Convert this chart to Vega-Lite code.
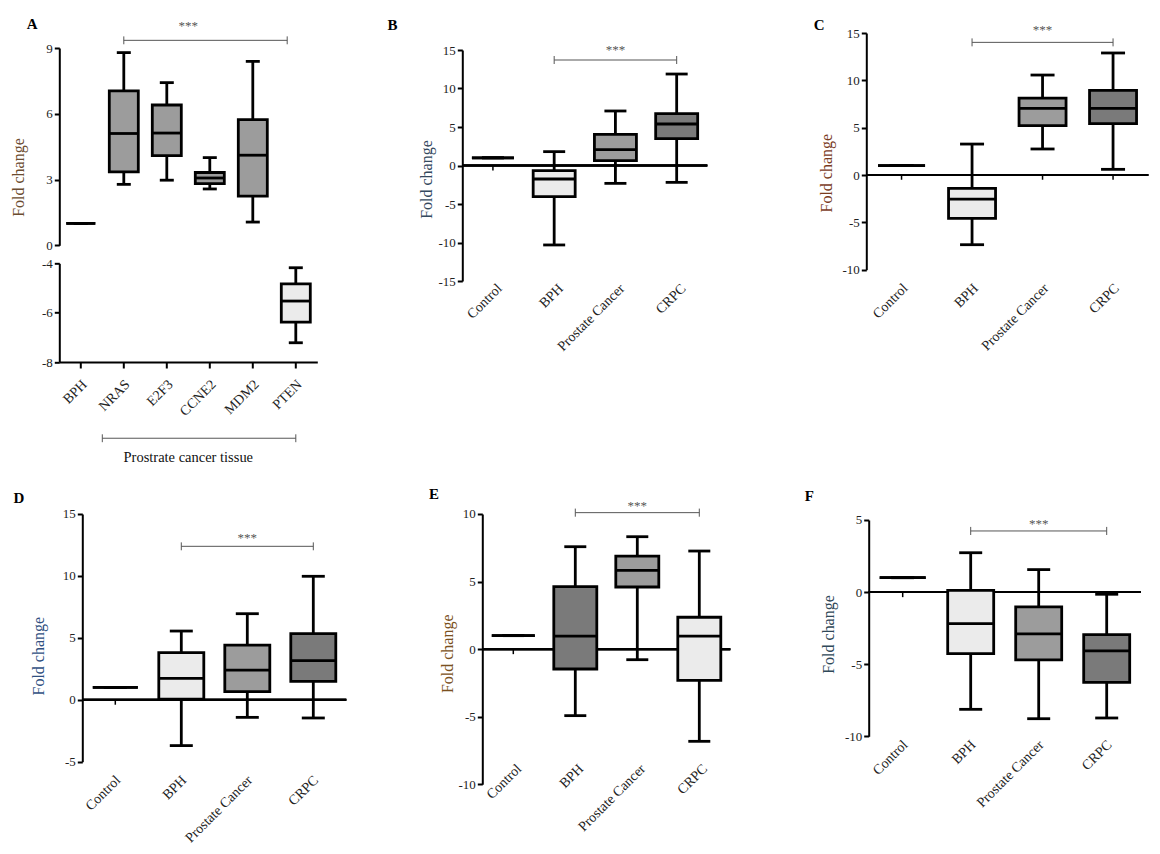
{
"$schema": "https://vega.github.io/schema/vega-lite/v6.json",
"padding": {"left": 10.3, "top": 16, "right": 5, "bottom": 5},
"background": "#ffffff",
"config": {
 "view": {"stroke": null},
 "font": "Liberation Serif",
 "tick": {"opacity": 1},
 "title": {"font": "Liberation Serif", "fontSize": 15, "fontWeight": "bold", "color": "#000000", "anchor": "start", "frame": "group"},
 "axis": {"grid": false, "labelFont": "Liberation Serif", "titleFont": "Liberation Serif", "labelColor": "#222222", "domainColor": "#000000", "tickColor": "#000000", "titleFontWeight": "normal", "labelOverlap": false},
 "axisY": {"domainWidth": 2, "tickWidth": 2, "tickSize": 5, "labelFontSize": 13, "labelPadding": 2, "titleFontSize": 16, "titleAngle": -90, "titleAlign": "center", "titleBaseline": "middle", "labelExpr": "'' + datum.value", "labelOverlap": false},
 "axisX": {"domain": false, "ticks": false, "labelAngle": -45, "labelAlign": "right", "labelBaseline": "middle", "labelPadding": 6, "labelOffset": 4, "labelFontSize": 14, "labelColor": "#222222"}
},
"datasets": {
 "boxes": [
  {"panel": "A", "group": "BPH", "texture": "none", "min": 1, "q1": 1, "median": 1, "q3": 1, "max": 1},
  {"panel": "A", "group": "NRAS", "texture": "fine", "min": 2.78, "q1": 3.35, "median": 5.1, "q3": 7.04, "max": 8.79},
  {"panel": "A", "group": "E2F3", "texture": "fine", "min": 2.97, "q1": 4.09, "median": 5.12, "q3": 6.4, "max": 7.42},
  {"panel": "A", "group": "CCNE2", "texture": "fine", "min": 2.57, "q1": 2.81, "median": 3.07, "q3": 3.32, "max": 4.0},
  {"panel": "A", "group": "MDM2", "texture": "fine", "min": 1.06, "q1": 2.24, "median": 4.11, "q3": 5.73, "max": 8.39},
  {"panel": "A", "group": "PTEN", "texture": "stipple", "min": -7.22, "q1": -6.38, "median": -5.53, "q3": -4.83, "max": -4.18},
  {"panel": "B", "group": "Control", "texture": "none", "min": 1, "q1": 1, "median": 1, "q3": 1, "max": 1},
  {"panel": "B", "group": "BPH", "texture": "stipple", "min": -10.32, "q1": -4.05, "median": -1.75, "q3": -0.67, "max": 1.8},
  {"panel": "B", "group": "Prostate Cancer", "texture": "fine", "min": -2.32, "q1": 0.63, "median": 2.06, "q3": 4.05, "max": 7.08},
  {"panel": "B", "group": "CRPC", "texture": "coarse", "min": -2.19, "q1": 3.48, "median": 5.39, "q3": 6.73, "max": 11.88},
  {"panel": "C", "group": "Control", "texture": "none", "min": 1, "q1": 1, "median": 1, "q3": 1, "max": 1},
  {"panel": "C", "group": "BPH", "texture": "stipple", "min": -7.36, "q1": -4.58, "median": -2.54, "q3": -1.41, "max": 3.27},
  {"panel": "C", "group": "Prostate Cancer", "texture": "fine", "min": 2.75, "q1": 5.21, "median": 7.04, "q3": 8.13, "max": 10.56},
  {"panel": "C", "group": "CRPC", "texture": "coarse", "min": 0.6, "q1": 5.42, "median": 7.04, "q3": 8.94, "max": 12.89},
  {"panel": "D", "group": "Control", "texture": "none", "min": 1, "q1": 1, "median": 1, "q3": 1, "max": 1},
  {"panel": "D", "group": "BPH", "texture": "stipple", "min": -3.7, "q1": 0.06, "median": 1.73, "q3": 3.8, "max": 5.55},
  {"panel": "D", "group": "Prostate Cancer", "texture": "fine", "min": -1.42, "q1": 0.65, "median": 2.4, "q3": 4.42, "max": 6.95},
  {"panel": "D", "group": "CRPC", "texture": "coarse", "min": -1.47, "q1": 1.49, "median": 3.16, "q3": 5.34, "max": 9.97},
  {"panel": "E", "group": "Control", "texture": "none", "min": 1, "q1": 1, "median": 1, "q3": 1, "max": 1},
  {"panel": "E", "group": "BPH", "texture": "coarse", "min": -4.92, "q1": -1.47, "median": 0.97, "q3": 4.62, "max": 7.58},
  {"panel": "E", "group": "Prostate Cancer", "texture": "fine", "min": -0.78, "q1": 4.6, "median": 5.83, "q3": 6.89, "max": 8.32},
  {"panel": "E", "group": "CRPC", "texture": "stipple", "min": -6.82, "q1": -2.31, "median": 0.97, "q3": 2.36, "max": 7.26},
  {"panel": "F", "group": "Control", "texture": "none", "min": 1, "q1": 1, "median": 1, "q3": 1, "max": 1},
  {"panel": "F", "group": "BPH", "texture": "stipple", "min": -8.13, "q1": -4.27, "median": -2.19, "q3": 0.12, "max": 2.73},
  {"panel": "F", "group": "Prostate Cancer", "texture": "fine", "min": -8.78, "q1": -4.7, "median": -2.9, "q3": -1.03, "max": 1.56},
  {"panel": "F", "group": "CRPC", "texture": "coarse", "min": -8.73, "q1": -6.26, "median": -4.08, "q3": -2.95, "max": -0.15}
 ],
 "annots": [
  {"panel": "A", "from": "NRAS", "to": "PTEN", "mid": "CCNE2", "label": "***", "y": 9.35, "ylo": 9.17, "yhi": 9.53, "ty": 9.99},
  {"panel": "A2", "from": "NRAS", "to": "PTEN", "mid": "CCNE2", "label": "Prostrate cancer tissue", "y": -11.09, "ylo": -11.25, "yhi": -10.93, "ty": -11.88},
  {"panel": "B", "from": "BPH", "to": "CRPC", "mid": "Prostate Cancer", "label": "***", "y": 13.7, "ylo": 13.18, "yhi": 14.22, "ty": 15.0},
  {"panel": "C", "from": "BPH", "to": "CRPC", "mid": "Prostate Cancer", "label": "***", "y": 14.01, "ylo": 13.59, "yhi": 14.43, "ty": 15.28},
  {"panel": "D", "from": "BPH", "to": "CRPC", "mid": "Prostate Cancer", "label": "***", "y": 12.39, "ylo": 12.07, "yhi": 12.71, "ty": 13.06},
  {"panel": "E", "from": "BPH", "to": "CRPC", "mid": "Prostate Cancer", "label": "***", "y": 10.1, "ylo": 9.8, "yhi": 10.4, "ty": 10.59},
  {"panel": "F", "from": "BPH", "to": "CRPC", "mid": "Prostate Cancer", "label": "***", "y": 4.24, "ylo": 3.96, "yhi": 4.52, "ty": 4.75}
 ]
},
"spacing": 22,
"vconcat": [
 {"spacing": 70, "hconcat": [
  {"bounds": "flush", "spacing": 0, "vconcat": [
   {"width": 10, "height": 14.4, "data": {"name": "annots"}, "transform": [{"filter": "false"}], "mark": {"type": "point", "opacity": 0}, "encoding": {}},
   {"bounds": "flush", "spacing": 17.3, "vconcat": [
    {"width": 258, "height": 197.3,
     "title": {"text": "A", "dx": -32.6, "offset": -11.5},
     "layer": [
      {"data": {"name": "boxes"}, "transform": [{"filter": "datum.panel==='A' && datum.group!=='PTEN'"}], "mark": {"type": "rule", "color": "#000", "strokeWidth": 2.8},
       "encoding": {"x": {"field": "group", "type": "nominal", "scale": {"domain": ["BPH","NRAS","E2F3","CCNE2","MDM2","PTEN"], "paddingInner": 0, "paddingOuter": 0}, "axis": null},
        "y": {"field": "min", "type": "quantitative", "scale": {"domain": [0, 9], "nice": false, "zero": false}, "axis": {"values": [0,3,6,9], "labelOverlap": false, "title": "Fold change", "titleColor": "#6b4c2f", "titleX": -41, "titleY": 129}}, "y2": {"field": "max"}}},
      {"data": {"name": "boxes"}, "transform": [{"filter": "datum.panel==='A' && datum.group!=='PTEN'"}], "mark": {"type": "tick", "color": "#000", "opacity": 1, "thickness": 2.8, "size": 14},
       "encoding": {"x": {"field": "group", "type": "nominal", "scale": {"domain": ["BPH","NRAS","E2F3","CCNE2","MDM2","PTEN"], "paddingInner": 0, "paddingOuter": 0}}, "y": {"field": "max", "type": "quantitative", "scale": {"domain": [0, 9], "nice": false, "zero": false}}}},
      {"data": {"name": "boxes"}, "transform": [{"filter": "datum.panel==='A' && datum.group!=='PTEN'"}], "mark": {"type": "tick", "color": "#000", "opacity": 1, "thickness": 2.8, "size": 14},
       "encoding": {"x": {"field": "group", "type": "nominal", "scale": {"domain": ["BPH","NRAS","E2F3","CCNE2","MDM2","PTEN"], "paddingInner": 0, "paddingOuter": 0}}, "y": {"field": "min", "type": "quantitative", "scale": {"domain": [0, 9], "nice": false, "zero": false}}}},
      {"data": {"name": "boxes"}, "transform": [{"filter": "datum.panel==='A' && datum.group!=='PTEN'"}], "mark": {"type": "bar", "stroke": "#000", "strokeWidth": 2.8, "size": 29},
       "encoding": {"x": {"field": "group", "type": "nominal", "scale": {"domain": ["BPH","NRAS","E2F3","CCNE2","MDM2","PTEN"], "paddingInner": 0, "paddingOuter": 0}}, "y": {"field": "q1", "type": "quantitative", "scale": {"domain": [0, 9], "nice": false, "zero": false}}, "y2": {"field": "q3"},
        "fill": {"field": "texture", "type": "nominal", "scale": {"domain": ["none","stipple","fine","coarse"], "range": ["#ffffff","#ebebeb","#9c9c9c","#7a7a7a"]}, "legend": null}}},
      {"data": {"name": "boxes"}, "transform": [{"filter": "datum.panel==='A' && datum.group!=='PTEN'"}], "mark": {"type": "tick", "color": "#000", "opacity": 1, "thickness": 2.8, "size": 29},
       "encoding": {"x": {"field": "group", "type": "nominal", "scale": {"domain": ["BPH","NRAS","E2F3","CCNE2","MDM2","PTEN"], "paddingInner": 0, "paddingOuter": 0}}, "y": {"field": "median", "type": "quantitative", "scale": {"domain": [0, 9], "nice": false, "zero": false}}}},
      {"data": {"name": "annots"}, "transform": [{"filter": "datum.panel==='A'"}], "mark": {"type": "rule", "color": "#555", "strokeWidth": 1},
       "encoding": {"x": {"field": "to", "type": "nominal", "bandPosition": 0.3, "scale": {"domain": ["BPH","NRAS","E2F3","CCNE2","MDM2","PTEN"], "paddingInner": 0, "paddingOuter": 0}}, "x2": {"field": "from"}, "y": {"field": "y", "type": "quantitative", "scale": {"domain": [0, 9], "nice": false, "zero": false}}}},
      {"data": {"name": "annots"}, "transform": [{"filter": "datum.panel==='A'"}], "mark": {"type": "rule", "color": "#555", "strokeWidth": 1},
       "encoding": {"x": {"field": "from", "type": "nominal", "scale": {"domain": ["BPH","NRAS","E2F3","CCNE2","MDM2","PTEN"], "paddingInner": 0, "paddingOuter": 0}}, "y": {"field": "ylo", "type": "quantitative", "scale": {"domain": [0, 9], "nice": false, "zero": false}}, "y2": {"field": "yhi"}}},
      {"data": {"name": "annots"}, "transform": [{"filter": "datum.panel==='A'"}], "mark": {"type": "rule", "color": "#555", "strokeWidth": 1},
       "encoding": {"x": {"field": "to", "type": "nominal", "bandPosition": 0.3, "scale": {"domain": ["BPH","NRAS","E2F3","CCNE2","MDM2","PTEN"], "paddingInner": 0, "paddingOuter": 0}}, "y": {"field": "ylo", "type": "quantitative", "scale": {"domain": [0, 9], "nice": false, "zero": false}}, "y2": {"field": "yhi"}}},
      {"data": {"name": "annots"}, "transform": [{"filter": "datum.panel==='A'"}], "mark": {"type": "text", "color": "#555", "fontSize": 13},
       "encoding": {"x": {"field": "mid", "type": "nominal", "bandPosition": 0, "scale": {"domain": ["BPH","NRAS","E2F3","CCNE2","MDM2","PTEN"], "paddingInner": 0, "paddingOuter": 0}}, "y": {"field": "ty", "type": "quantitative", "scale": {"domain": [0, 9], "nice": false, "zero": false}}, "text": {"field": "label"}}}
     ]},
    {"width": 258, "height": 98.7,
     "layer": [
      {"data": {"name": "boxes"}, "transform": [{"filter": "datum.panel==='A' && datum.group==='PTEN'"}], "mark": {"type": "rule", "color": "#000", "strokeWidth": 2.8},
       "encoding": {"x": {"field": "group", "type": "nominal", "scale": {"domain": ["BPH","NRAS","E2F3","CCNE2","MDM2","PTEN"], "paddingInner": 0, "paddingOuter": 0}, "axis": {"title": null, "domain": true, "ticks": true, "domainWidth": 2, "tickWidth": 2, "tickSize": 6, "labelPadding": 14}},
        "y": {"field": "min", "type": "quantitative", "scale": {"domain": [-8, -4], "nice": false, "zero": false}, "axis": {"values": [-8,-6,-4], "labelOverlap": false, "title": null}}, "y2": {"field": "max"}}},
      {"data": {"name": "boxes"}, "transform": [{"filter": "datum.panel==='A' && datum.group==='PTEN'"}], "mark": {"type": "tick", "color": "#000", "opacity": 1, "thickness": 2.8, "size": 14},
       "encoding": {"x": {"field": "group", "type": "nominal", "scale": {"domain": ["BPH","NRAS","E2F3","CCNE2","MDM2","PTEN"], "paddingInner": 0, "paddingOuter": 0}}, "y": {"field": "max", "type": "quantitative", "scale": {"domain": [-8, -4], "nice": false, "zero": false}}}},
      {"data": {"name": "boxes"}, "transform": [{"filter": "datum.panel==='A' && datum.group==='PTEN'"}], "mark": {"type": "tick", "color": "#000", "opacity": 1, "thickness": 2.8, "size": 14},
       "encoding": {"x": {"field": "group", "type": "nominal", "scale": {"domain": ["BPH","NRAS","E2F3","CCNE2","MDM2","PTEN"], "paddingInner": 0, "paddingOuter": 0}}, "y": {"field": "min", "type": "quantitative", "scale": {"domain": [-8, -4], "nice": false, "zero": false}}}},
      {"data": {"name": "boxes"}, "transform": [{"filter": "datum.panel==='A' && datum.group==='PTEN'"}], "mark": {"type": "bar", "stroke": "#000", "strokeWidth": 2.8, "size": 29},
       "encoding": {"x": {"field": "group", "type": "nominal", "scale": {"domain": ["BPH","NRAS","E2F3","CCNE2","MDM2","PTEN"], "paddingInner": 0, "paddingOuter": 0}}, "y": {"field": "q1", "type": "quantitative", "scale": {"domain": [-8, -4], "nice": false, "zero": false}}, "y2": {"field": "q3"},
        "fill": {"field": "texture", "type": "nominal", "scale": {"domain": ["none","stipple","fine","coarse"], "range": ["#ffffff","#ebebeb","#9c9c9c","#7a7a7a"]}, "legend": null}}},
      {"data": {"name": "boxes"}, "transform": [{"filter": "datum.panel==='A' && datum.group==='PTEN'"}], "mark": {"type": "tick", "color": "#000", "opacity": 1, "thickness": 2.8, "size": 29},
       "encoding": {"x": {"field": "group", "type": "nominal", "scale": {"domain": ["BPH","NRAS","E2F3","CCNE2","MDM2","PTEN"], "paddingInner": 0, "paddingOuter": 0}}, "y": {"field": "median", "type": "quantitative", "scale": {"domain": [-8, -4], "nice": false, "zero": false}}}},
      {"data": {"name": "annots"}, "transform": [{"filter": "datum.panel==='A2'"}], "mark": {"type": "rule", "color": "#555", "strokeWidth": 1},
       "encoding": {"x": {"field": "from", "type": "nominal", "bandPosition": 0, "scale": {"domain": ["BPH","NRAS","E2F3","CCNE2","MDM2","PTEN"], "paddingInner": 0, "paddingOuter": 0}}, "x2": {"field": "to"}, "y": {"field": "y", "type": "quantitative", "scale": {"domain": [-8, -4], "nice": false, "zero": false}}}},
      {"data": {"name": "annots"}, "transform": [{"filter": "datum.panel==='A2'"}], "mark": {"type": "rule", "color": "#555", "strokeWidth": 1},
       "encoding": {"x": {"field": "from", "type": "nominal", "bandPosition": 0, "scale": {"domain": ["BPH","NRAS","E2F3","CCNE2","MDM2","PTEN"], "paddingInner": 0, "paddingOuter": 0}}, "y": {"field": "ylo", "type": "quantitative", "scale": {"domain": [-8, -4], "nice": false, "zero": false}}, "y2": {"field": "yhi"}}},
      {"data": {"name": "annots"}, "transform": [{"filter": "datum.panel==='A2'"}], "mark": {"type": "rule", "color": "#555", "strokeWidth": 1},
       "encoding": {"x": {"field": "to", "type": "nominal", "scale": {"domain": ["BPH","NRAS","E2F3","CCNE2","MDM2","PTEN"], "paddingInner": 0, "paddingOuter": 0}}, "y": {"field": "ylo", "type": "quantitative", "scale": {"domain": [-8, -4], "nice": false, "zero": false}}, "y2": {"field": "yhi"}}},
      {"data": {"name": "annots"}, "transform": [{"filter": "datum.panel==='A2'"}], "mark": {"type": "text", "color": "#111", "fontSize": 14.5},
       "encoding": {"x": {"field": "mid", "type": "nominal", "bandPosition": 0, "scale": {"domain": ["BPH","NRAS","E2F3","CCNE2","MDM2","PTEN"], "paddingInner": 0, "paddingOuter": 0}}, "y": {"field": "ty", "type": "quantitative", "scale": {"domain": [-8, -4], "nice": false, "zero": false}}, "text": {"field": "label"}}}
     ]}
   ]}
  ]},
  {"spacing": 105, "hconcat": [
   {"bounds": "flush", "spacing": 0, "vconcat": [
    {"width": 10, "height": 16.7, "data": {"name": "annots"}, "transform": [{"filter": "false"}], "mark": {"type": "point", "opacity": 0}, "encoding": {}},
    {"width": 245, "height": 231,
     "title": {"text": "B", "dx": -74.7, "offset": 11.5},
     "layer": [
      {"data": {"name": "boxes"}, "transform": [{"filter": "datum.panel==='B'"}], "mark": {"type": "rule", "color": "#000", "strokeWidth": 2},
       "encoding": {"y": {"datum": 0, "type": "quantitative", "scale": {"domain": [-15, 15], "nice": false, "zero": false}, "axis": {"values": [-15,-10,-5,0,5,10,15], "tickCount": 7, "labelOverlap": false, "title": "Fold change", "titleColor": "#34495e", "titleX": -36.2, "titleY": 129}}}},
      {"data": {"name": "boxes"}, "transform": [{"filter": "datum.panel==='B'"}], "mark": {"type": "rule", "color": "#000", "strokeWidth": 1.5},
       "encoding": {"x": {"field": "group", "type": "nominal", "scale": {"domain": ["Control","BPH","Prostate Cancer","CRPC"], "paddingInner": 0, "paddingOuter": 0}}, "y": {"datum": 0, "type": "quantitative", "scale": {"domain": [-15, 15], "nice": false, "zero": false}}, "y2": {"datum": -0.65}}},
      {"data": {"name": "boxes"}, "transform": [{"filter": "datum.panel==='B'"}], "mark": {"type": "rule", "color": "#000", "strokeWidth": 2.8},
       "encoding": {"x": {"field": "group", "type": "nominal", "scale": {"domain": ["Control","BPH","Prostate Cancer","CRPC"], "paddingInner": 0, "paddingOuter": 0}, "axis": {"title": null, "labelPadding": 5, "labelOffset": 7}}, "y": {"field": "min", "type": "quantitative", "scale": {"domain": [-15, 15], "nice": false, "zero": false}}, "y2": {"field": "max"}}},
      {"data": {"name": "boxes"}, "transform": [{"filter": "datum.panel==='B'"}], "mark": {"type": "tick", "color": "#000", "opacity": 1, "thickness": 2.8, "size": 22},
       "encoding": {"x": {"field": "group", "type": "nominal", "scale": {"domain": ["Control","BPH","Prostate Cancer","CRPC"], "paddingInner": 0, "paddingOuter": 0}}, "y": {"field": "max", "type": "quantitative", "scale": {"domain": [-15, 15], "nice": false, "zero": false}}}},
      {"data": {"name": "boxes"}, "transform": [{"filter": "datum.panel==='B'"}], "mark": {"type": "tick", "color": "#000", "opacity": 1, "thickness": 2.8, "size": 22},
       "encoding": {"x": {"field": "group", "type": "nominal", "scale": {"domain": ["Control","BPH","Prostate Cancer","CRPC"], "paddingInner": 0, "paddingOuter": 0}}, "y": {"field": "min", "type": "quantitative", "scale": {"domain": [-15, 15], "nice": false, "zero": false}}}},
      {"data": {"name": "boxes"}, "transform": [{"filter": "datum.panel==='B'"}], "mark": {"type": "bar", "stroke": "#000", "strokeWidth": 2.8, "size": 42},
       "encoding": {"x": {"field": "group", "type": "nominal", "scale": {"domain": ["Control","BPH","Prostate Cancer","CRPC"], "paddingInner": 0, "paddingOuter": 0}}, "y": {"field": "q1", "type": "quantitative", "scale": {"domain": [-15, 15], "nice": false, "zero": false}}, "y2": {"field": "q3"},
        "fill": {"field": "texture", "type": "nominal", "scale": {"domain": ["none","stipple","fine","coarse"], "range": ["#ffffff","#ebebeb","#9c9c9c","#7a7a7a"]}, "legend": null}}},
      {"data": {"name": "boxes"}, "transform": [{"filter": "datum.panel==='B'"}], "mark": {"type": "tick", "color": "#000", "opacity": 1, "thickness": 2.8, "size": 42},
       "encoding": {"x": {"field": "group", "type": "nominal", "scale": {"domain": ["Control","BPH","Prostate Cancer","CRPC"], "paddingInner": 0, "paddingOuter": 0}}, "y": {"field": "median", "type": "quantitative", "scale": {"domain": [-15, 15], "nice": false, "zero": false}}}},
      {"data": {"name": "annots"}, "transform": [{"filter": "datum.panel==='B'"}], "mark": {"type": "rule", "color": "#555", "strokeWidth": 1},
       "encoding": {"x": {"field": "from", "type": "nominal", "scale": {"domain": ["Control","BPH","Prostate Cancer","CRPC"], "paddingInner": 0, "paddingOuter": 0}}, "x2": {"field": "to"}, "y": {"field": "y", "type": "quantitative", "scale": {"domain": [-15, 15], "nice": false, "zero": false}}}},
      {"data": {"name": "annots"}, "transform": [{"filter": "datum.panel==='B'"}], "mark": {"type": "rule", "color": "#555", "strokeWidth": 1},
       "encoding": {"x": {"field": "from", "type": "nominal", "scale": {"domain": ["Control","BPH","Prostate Cancer","CRPC"], "paddingInner": 0, "paddingOuter": 0}}, "y": {"field": "ylo", "type": "quantitative", "scale": {"domain": [-15, 15], "nice": false, "zero": false}}, "y2": {"field": "yhi"}}},
      {"data": {"name": "annots"}, "transform": [{"filter": "datum.panel==='B'"}], "mark": {"type": "rule", "color": "#555", "strokeWidth": 1},
       "encoding": {"x": {"field": "to", "type": "nominal", "scale": {"domain": ["Control","BPH","Prostate Cancer","CRPC"], "paddingInner": 0, "paddingOuter": 0}}, "y": {"field": "ylo", "type": "quantitative", "scale": {"domain": [-15, 15], "nice": false, "zero": false}}, "y2": {"field": "yhi"}}},
      {"data": {"name": "annots"}, "transform": [{"filter": "datum.panel==='B'"}], "mark": {"type": "text", "color": "#555", "fontSize": 13},
       "encoding": {"x": {"field": "mid", "type": "nominal", "scale": {"domain": ["Control","BPH","Prostate Cancer","CRPC"], "paddingInner": 0, "paddingOuter": 0}}, "y": {"field": "ty", "type": "quantitative", "scale": {"domain": [-15, 15], "nice": false, "zero": false}}, "text": {"field": "label"}}}
     ]}
   ]},
   {"width": 282, "height": 236.7,
    "title": {"text": "C", "dx": -52.6, "offset": -8.85},
    "layer": [
     {"data": {"name": "boxes"}, "transform": [{"filter": "datum.panel==='C'"}], "mark": {"type": "rule", "color": "#000", "strokeWidth": 2},
      "encoding": {"y": {"datum": 0, "type": "quantitative", "scale": {"domain": [-10, 15], "nice": false, "zero": false}, "axis": {"values": [-10,-5,0,5,10,15], "labelOverlap": false, "title": "Fold change", "titleColor": "#7a3b1e", "titleX": -39.3, "titleY": 139.7}}}},
     {"data": {"name": "boxes"}, "transform": [{"filter": "datum.panel==='C'"}], "mark": {"type": "rule", "color": "#000", "strokeWidth": 1.5},
      "encoding": {"x": {"field": "group", "type": "nominal", "scale": {"domain": ["Control","BPH","Prostate Cancer","CRPC"], "paddingInner": 0, "paddingOuter": 0}}, "y": {"datum": 0, "type": "quantitative", "scale": {"domain": [-10, 15], "nice": false, "zero": false}}, "y2": {"datum": -0.5}}},
     {"data": {"name": "boxes"}, "transform": [{"filter": "datum.panel==='C'"}], "mark": {"type": "rule", "color": "#000", "strokeWidth": 2.8},
      "encoding": {"x": {"field": "group", "type": "nominal", "scale": {"domain": ["Control","BPH","Prostate Cancer","CRPC"], "paddingInner": 0, "paddingOuter": 0}, "axis": {"title": null, "labelPadding": 16}}, "y": {"field": "min", "type": "quantitative", "scale": {"domain": [-10, 15], "nice": false, "zero": false}}, "y2": {"field": "max"}}},
     {"data": {"name": "boxes"}, "transform": [{"filter": "datum.panel==='C'"}], "mark": {"type": "tick", "color": "#000", "opacity": 1, "thickness": 2.8, "size": 24},
      "encoding": {"x": {"field": "group", "type": "nominal", "scale": {"domain": ["Control","BPH","Prostate Cancer","CRPC"], "paddingInner": 0, "paddingOuter": 0}}, "y": {"field": "max", "type": "quantitative", "scale": {"domain": [-10, 15], "nice": false, "zero": false}}}},
     {"data": {"name": "boxes"}, "transform": [{"filter": "datum.panel==='C'"}], "mark": {"type": "tick", "color": "#000", "opacity": 1, "thickness": 2.8, "size": 24},
      "encoding": {"x": {"field": "group", "type": "nominal", "scale": {"domain": ["Control","BPH","Prostate Cancer","CRPC"], "paddingInner": 0, "paddingOuter": 0}}, "y": {"field": "min", "type": "quantitative", "scale": {"domain": [-10, 15], "nice": false, "zero": false}}}},
     {"data": {"name": "boxes"}, "transform": [{"filter": "datum.panel==='C'"}], "mark": {"type": "bar", "stroke": "#000", "strokeWidth": 2.8, "size": 47},
      "encoding": {"x": {"field": "group", "type": "nominal", "scale": {"domain": ["Control","BPH","Prostate Cancer","CRPC"], "paddingInner": 0, "paddingOuter": 0}}, "y": {"field": "q1", "type": "quantitative", "scale": {"domain": [-10, 15], "nice": false, "zero": false}}, "y2": {"field": "q3"},
       "fill": {"field": "texture", "type": "nominal", "scale": {"domain": ["none","stipple","fine","coarse"], "range": ["#ffffff","#ebebeb","#9c9c9c","#7a7a7a"]}, "legend": null}}},
     {"data": {"name": "boxes"}, "transform": [{"filter": "datum.panel==='C'"}], "mark": {"type": "tick", "color": "#000", "opacity": 1, "thickness": 2.8, "size": 47},
      "encoding": {"x": {"field": "group", "type": "nominal", "scale": {"domain": ["Control","BPH","Prostate Cancer","CRPC"], "paddingInner": 0, "paddingOuter": 0}}, "y": {"field": "median", "type": "quantitative", "scale": {"domain": [-10, 15], "nice": false, "zero": false}}}},
     {"data": {"name": "annots"}, "transform": [{"filter": "datum.panel==='C'"}], "mark": {"type": "rule", "color": "#555", "strokeWidth": 1},
      "encoding": {"x": {"field": "from", "type": "nominal", "scale": {"domain": ["Control","BPH","Prostate Cancer","CRPC"], "paddingInner": 0, "paddingOuter": 0}}, "x2": {"field": "to"}, "y": {"field": "y", "type": "quantitative", "scale": {"domain": [-10, 15], "nice": false, "zero": false}}}},
     {"data": {"name": "annots"}, "transform": [{"filter": "datum.panel==='C'"}], "mark": {"type": "rule", "color": "#555", "strokeWidth": 1},
      "encoding": {"x": {"field": "from", "type": "nominal", "scale": {"domain": ["Control","BPH","Prostate Cancer","CRPC"], "paddingInner": 0, "paddingOuter": 0}}, "y": {"field": "ylo", "type": "quantitative", "scale": {"domain": [-10, 15], "nice": false, "zero": false}}, "y2": {"field": "yhi"}}},
     {"data": {"name": "annots"}, "transform": [{"filter": "datum.panel==='C'"}], "mark": {"type": "rule", "color": "#555", "strokeWidth": 1},
      "encoding": {"x": {"field": "to", "type": "nominal", "scale": {"domain": ["Control","BPH","Prostate Cancer","CRPC"], "paddingInner": 0, "paddingOuter": 0}}, "y": {"field": "ylo", "type": "quantitative", "scale": {"domain": [-10, 15], "nice": false, "zero": false}}, "y2": {"field": "yhi"}}},
     {"data": {"name": "annots"}, "transform": [{"filter": "datum.panel==='C'"}], "mark": {"type": "text", "color": "#555", "fontSize": 13},
      "encoding": {"x": {"field": "mid", "type": "nominal", "scale": {"domain": ["Control","BPH","Prostate Cancer","CRPC"], "paddingInner": 0, "paddingOuter": 0}}, "y": {"field": "ty", "type": "quantitative", "scale": {"domain": [-10, 15], "nice": false, "zero": false}}, "text": {"field": "label"}}}
    ]}
  ]}
 ]},
 {"spacing": 81, "hconcat": [
  {"bounds": "flush", "spacing": 0, "hconcat": [
   {"width": 22.4, "height": 10, "data": {"name": "annots"}, "transform": [{"filter": "false"}], "mark": {"type": "point", "opacity": 0}, "encoding": {}},
   {"width": 264, "height": 247.7,
    "title": {"text": "D", "dx": -68.7, "offset": 2.3},
    "layer": [
     {"data": {"name": "boxes"}, "transform": [{"filter": "datum.panel==='D'"}], "mark": {"type": "rule", "color": "#000", "strokeWidth": 2},
      "encoding": {"y": {"datum": 0, "type": "quantitative", "scale": {"domain": [-5, 15], "nice": false, "zero": false}, "axis": {"values": [-5,0,5,10,15], "labelOverlap": false, "title": "Fold change", "titleColor": "#2f4f7f", "titleX": -43.9, "titleY": 141.7}}}},
     {"data": {"name": "boxes"}, "transform": [{"filter": "datum.panel==='D'"}], "mark": {"type": "rule", "color": "#000", "strokeWidth": 1.5},
      "encoding": {"x": {"field": "group", "type": "nominal", "scale": {"domain": ["Control","BPH","Prostate Cancer","CRPC"], "paddingInner": 0, "paddingOuter": 0}}, "y": {"datum": 0, "type": "quantitative", "scale": {"domain": [-5, 15], "nice": false, "zero": false}}, "y2": {"datum": -0.4}}},
     {"data": {"name": "boxes"}, "transform": [{"filter": "datum.panel==='D'"}], "mark": {"type": "rule", "color": "#000", "strokeWidth": 2.8},
      "encoding": {"x": {"field": "group", "type": "nominal", "scale": {"domain": ["Control","BPH","Prostate Cancer","CRPC"], "paddingInner": 0, "paddingOuter": 0}, "axis": {"title": null, "labelPadding": 16, "labelOffset": 3}}, "y": {"field": "min", "type": "quantitative", "scale": {"domain": [-5, 15], "nice": false, "zero": false}}, "y2": {"field": "max"}}},
     {"data": {"name": "boxes"}, "transform": [{"filter": "datum.panel==='D'"}], "mark": {"type": "tick", "color": "#000", "opacity": 1, "thickness": 2.8, "size": 23},
      "encoding": {"x": {"field": "group", "type": "nominal", "scale": {"domain": ["Control","BPH","Prostate Cancer","CRPC"], "paddingInner": 0, "paddingOuter": 0}}, "y": {"field": "max", "type": "quantitative", "scale": {"domain": [-5, 15], "nice": false, "zero": false}}}},
     {"data": {"name": "boxes"}, "transform": [{"filter": "datum.panel==='D'"}], "mark": {"type": "tick", "color": "#000", "opacity": 1, "thickness": 2.8, "size": 23},
      "encoding": {"x": {"field": "group", "type": "nominal", "scale": {"domain": ["Control","BPH","Prostate Cancer","CRPC"], "paddingInner": 0, "paddingOuter": 0}}, "y": {"field": "min", "type": "quantitative", "scale": {"domain": [-5, 15], "nice": false, "zero": false}}}},
     {"data": {"name": "boxes"}, "transform": [{"filter": "datum.panel==='D'"}], "mark": {"type": "bar", "stroke": "#000", "strokeWidth": 2.8, "size": 45},
      "encoding": {"x": {"field": "group", "type": "nominal", "scale": {"domain": ["Control","BPH","Prostate Cancer","CRPC"], "paddingInner": 0, "paddingOuter": 0}}, "y": {"field": "q1", "type": "quantitative", "scale": {"domain": [-5, 15], "nice": false, "zero": false}}, "y2": {"field": "q3"},
       "fill": {"field": "texture", "type": "nominal", "scale": {"domain": ["none","stipple","fine","coarse"], "range": ["#ffffff","#ebebeb","#9c9c9c","#7a7a7a"]}, "legend": null}}},
     {"data": {"name": "boxes"}, "transform": [{"filter": "datum.panel==='D'"}], "mark": {"type": "tick", "color": "#000", "opacity": 1, "thickness": 2.8, "size": 45},
      "encoding": {"x": {"field": "group", "type": "nominal", "scale": {"domain": ["Control","BPH","Prostate Cancer","CRPC"], "paddingInner": 0, "paddingOuter": 0}}, "y": {"field": "median", "type": "quantitative", "scale": {"domain": [-5, 15], "nice": false, "zero": false}}}},
     {"data": {"name": "annots"}, "transform": [{"filter": "datum.panel==='D'"}], "mark": {"type": "rule", "color": "#555", "strokeWidth": 1},
      "encoding": {"x": {"field": "from", "type": "nominal", "scale": {"domain": ["Control","BPH","Prostate Cancer","CRPC"], "paddingInner": 0, "paddingOuter": 0}}, "x2": {"field": "to"}, "y": {"field": "y", "type": "quantitative", "scale": {"domain": [-5, 15], "nice": false, "zero": false}}}},
     {"data": {"name": "annots"}, "transform": [{"filter": "datum.panel==='D'"}], "mark": {"type": "rule", "color": "#555", "strokeWidth": 1},
      "encoding": {"x": {"field": "from", "type": "nominal", "scale": {"domain": ["Control","BPH","Prostate Cancer","CRPC"], "paddingInner": 0, "paddingOuter": 0}}, "y": {"field": "ylo", "type": "quantitative", "scale": {"domain": [-5, 15], "nice": false, "zero": false}}, "y2": {"field": "yhi"}}},
     {"data": {"name": "annots"}, "transform": [{"filter": "datum.panel==='D'"}], "mark": {"type": "rule", "color": "#555", "strokeWidth": 1},
      "encoding": {"x": {"field": "to", "type": "nominal", "scale": {"domain": ["Control","BPH","Prostate Cancer","CRPC"], "paddingInner": 0, "paddingOuter": 0}}, "y": {"field": "ylo", "type": "quantitative", "scale": {"domain": [-5, 15], "nice": false, "zero": false}}, "y2": {"field": "yhi"}}},
     {"data": {"name": "annots"}, "transform": [{"filter": "datum.panel==='D'"}], "mark": {"type": "text", "color": "#555", "fontSize": 13},
      "encoding": {"x": {"field": "mid", "type": "nominal", "scale": {"domain": ["Control","BPH","Prostate Cancer","CRPC"], "paddingInner": 0, "paddingOuter": 0}}, "y": {"field": "ty", "type": "quantitative", "scale": {"domain": [-5, 15], "nice": false, "zero": false}}, "text": {"field": "label"}}}
    ]}
  ]},
  {"spacing": 73.4, "hconcat": [
   {"width": 248, "height": 270.3,
    "title": {"text": "E", "dx": -53.3, "offset": -2.2},
    "layer": [
     {"data": {"name": "boxes"}, "transform": [{"filter": "datum.panel==='E'"}], "mark": {"type": "rule", "color": "#000", "strokeWidth": 2},
      "encoding": {"y": {"datum": 0, "type": "quantitative", "scale": {"domain": [-10, 10], "nice": false, "zero": false}, "axis": {"values": [-10,-5,0,5,10], "labelOverlap": false, "title": "Fold change", "titleColor": "#7a5020", "titleX": -34.5, "titleY": 139.3}}}},
     {"data": {"name": "boxes"}, "transform": [{"filter": "datum.panel==='E'"}], "mark": {"type": "rule", "color": "#000", "strokeWidth": 1.5},
      "encoding": {"x": {"field": "group", "type": "nominal", "scale": {"domain": ["Control","BPH","Prostate Cancer","CRPC"], "paddingInner": 0, "paddingOuter": 0}}, "y": {"datum": 0, "type": "quantitative", "scale": {"domain": [-10, 10], "nice": false, "zero": false}}, "y2": {"datum": -0.37}}},
     {"data": {"name": "boxes"}, "transform": [{"filter": "datum.panel==='E'"}], "mark": {"type": "rule", "color": "#000", "strokeWidth": 2.8},
      "encoding": {"x": {"field": "group", "type": "nominal", "scale": {"domain": ["Control","BPH","Prostate Cancer","CRPC"], "paddingInner": 0, "paddingOuter": 0}, "axis": {"title": null, "labelPadding": -18, "labelOffset": 6}}, "y": {"field": "min", "type": "quantitative", "scale": {"domain": [-10, 10], "nice": false, "zero": false}}, "y2": {"field": "max"}}},
     {"data": {"name": "boxes"}, "transform": [{"filter": "datum.panel==='E'"}], "mark": {"type": "tick", "color": "#000", "opacity": 1, "thickness": 2.8, "size": 22},
      "encoding": {"x": {"field": "group", "type": "nominal", "scale": {"domain": ["Control","BPH","Prostate Cancer","CRPC"], "paddingInner": 0, "paddingOuter": 0}}, "y": {"field": "max", "type": "quantitative", "scale": {"domain": [-10, 10], "nice": false, "zero": false}}}},
     {"data": {"name": "boxes"}, "transform": [{"filter": "datum.panel==='E'"}], "mark": {"type": "tick", "color": "#000", "opacity": 1, "thickness": 2.8, "size": 22},
      "encoding": {"x": {"field": "group", "type": "nominal", "scale": {"domain": ["Control","BPH","Prostate Cancer","CRPC"], "paddingInner": 0, "paddingOuter": 0}}, "y": {"field": "min", "type": "quantitative", "scale": {"domain": [-10, 10], "nice": false, "zero": false}}}},
     {"data": {"name": "boxes"}, "transform": [{"filter": "datum.panel==='E'"}], "mark": {"type": "bar", "stroke": "#000", "strokeWidth": 2.8, "size": 43},
      "encoding": {"x": {"field": "group", "type": "nominal", "scale": {"domain": ["Control","BPH","Prostate Cancer","CRPC"], "paddingInner": 0, "paddingOuter": 0}}, "y": {"field": "q1", "type": "quantitative", "scale": {"domain": [-10, 10], "nice": false, "zero": false}}, "y2": {"field": "q3"},
       "fill": {"field": "texture", "type": "nominal", "scale": {"domain": ["none","stipple","fine","coarse"], "range": ["#ffffff","#ebebeb","#9c9c9c","#7a7a7a"]}, "legend": null}}},
     {"data": {"name": "boxes"}, "transform": [{"filter": "datum.panel==='E'"}], "mark": {"type": "tick", "color": "#000", "opacity": 1, "thickness": 2.8, "size": 43},
      "encoding": {"x": {"field": "group", "type": "nominal", "scale": {"domain": ["Control","BPH","Prostate Cancer","CRPC"], "paddingInner": 0, "paddingOuter": 0}}, "y": {"field": "median", "type": "quantitative", "scale": {"domain": [-10, 10], "nice": false, "zero": false}}}},
     {"data": {"name": "annots"}, "transform": [{"filter": "datum.panel==='E'"}], "mark": {"type": "rule", "color": "#555", "strokeWidth": 1},
      "encoding": {"x": {"field": "from", "type": "nominal", "scale": {"domain": ["Control","BPH","Prostate Cancer","CRPC"], "paddingInner": 0, "paddingOuter": 0}}, "x2": {"field": "to"}, "y": {"field": "y", "type": "quantitative", "scale": {"domain": [-10, 10], "nice": false, "zero": false}}}},
     {"data": {"name": "annots"}, "transform": [{"filter": "datum.panel==='E'"}], "mark": {"type": "rule", "color": "#555", "strokeWidth": 1},
      "encoding": {"x": {"field": "from", "type": "nominal", "scale": {"domain": ["Control","BPH","Prostate Cancer","CRPC"], "paddingInner": 0, "paddingOuter": 0}}, "y": {"field": "ylo", "type": "quantitative", "scale": {"domain": [-10, 10], "nice": false, "zero": false}}, "y2": {"field": "yhi"}}},
     {"data": {"name": "annots"}, "transform": [{"filter": "datum.panel==='E'"}], "mark": {"type": "rule", "color": "#555", "strokeWidth": 1},
      "encoding": {"x": {"field": "to", "type": "nominal", "scale": {"domain": ["Control","BPH","Prostate Cancer","CRPC"], "paddingInner": 0, "paddingOuter": 0}}, "y": {"field": "ylo", "type": "quantitative", "scale": {"domain": [-10, 10], "nice": false, "zero": false}}, "y2": {"field": "yhi"}}},
     {"data": {"name": "annots"}, "transform": [{"filter": "datum.panel==='E'"}], "mark": {"type": "text", "color": "#555", "fontSize": 13},
      "encoding": {"x": {"field": "mid", "type": "nominal", "scale": {"domain": ["Control","BPH","Prostate Cancer","CRPC"], "paddingInner": 0, "paddingOuter": 0}}, "y": {"field": "ty", "type": "quantitative", "scale": {"domain": [-10, 10], "nice": false, "zero": false}}, "text": {"field": "label"}}}
    ]},
   {"bounds": "flush", "spacing": 0, "vconcat": [
    {"width": 10, "height": 5.7, "data": {"name": "annots"}, "transform": [{"filter": "false"}], "mark": {"type": "point", "opacity": 0}, "encoding": {}},
    {"width": 272, "height": 216.3,
     "title": {"text": "F", "dx": -64, "offset": 10},
     "layer": [
      {"data": {"name": "boxes"}, "transform": [{"filter": "datum.panel==='F'"}], "mark": {"type": "rule", "color": "#000", "strokeWidth": 2},
       "encoding": {"y": {"datum": 0, "type": "quantitative", "scale": {"domain": [-10, 5], "nice": false, "zero": false}, "axis": {"values": [-10,-5,0,5], "labelOverlap": false, "title": "Fold change", "titleColor": "#2f4858", "titleX": -40.2, "titleY": 114}}}},
      {"data": {"name": "boxes"}, "transform": [{"filter": "datum.panel==='F'"}], "mark": {"type": "rule", "color": "#000", "strokeWidth": 1.5},
       "encoding": {"x": {"field": "group", "type": "nominal", "scale": {"domain": ["Control","BPH","Prostate Cancer","CRPC"], "paddingInner": 0, "paddingOuter": 0}}, "y": {"datum": 0, "type": "quantitative", "scale": {"domain": [-10, 5], "nice": false, "zero": false}}, "y2": {"datum": -0.35}}},
      {"data": {"name": "boxes"}, "transform": [{"filter": "datum.panel==='F'"}], "mark": {"type": "rule", "color": "#000", "strokeWidth": 2.8},
       "encoding": {"x": {"field": "group", "type": "nominal", "scale": {"domain": ["Control","BPH","Prostate Cancer","CRPC"], "paddingInner": 0, "paddingOuter": 0}, "axis": {"title": null, "labelPadding": 6, "labelOffset": 3}}, "y": {"field": "min", "type": "quantitative", "scale": {"domain": [-10, 5], "nice": false, "zero": false}}, "y2": {"field": "max"}}},
      {"data": {"name": "boxes"}, "transform": [{"filter": "datum.panel==='F'"}], "mark": {"type": "tick", "color": "#000", "opacity": 1, "thickness": 2.8, "size": 23},
       "encoding": {"x": {"field": "group", "type": "nominal", "scale": {"domain": ["Control","BPH","Prostate Cancer","CRPC"], "paddingInner": 0, "paddingOuter": 0}}, "y": {"field": "max", "type": "quantitative", "scale": {"domain": [-10, 5], "nice": false, "zero": false}}}},
      {"data": {"name": "boxes"}, "transform": [{"filter": "datum.panel==='F'"}], "mark": {"type": "tick", "color": "#000", "opacity": 1, "thickness": 2.8, "size": 23},
       "encoding": {"x": {"field": "group", "type": "nominal", "scale": {"domain": ["Control","BPH","Prostate Cancer","CRPC"], "paddingInner": 0, "paddingOuter": 0}}, "y": {"field": "min", "type": "quantitative", "scale": {"domain": [-10, 5], "nice": false, "zero": false}}}},
      {"data": {"name": "boxes"}, "transform": [{"filter": "datum.panel==='F'"}], "mark": {"type": "bar", "stroke": "#000", "strokeWidth": 2.8, "size": 46},
       "encoding": {"x": {"field": "group", "type": "nominal", "scale": {"domain": ["Control","BPH","Prostate Cancer","CRPC"], "paddingInner": 0, "paddingOuter": 0}}, "y": {"field": "q1", "type": "quantitative", "scale": {"domain": [-10, 5], "nice": false, "zero": false}}, "y2": {"field": "q3"},
        "fill": {"field": "texture", "type": "nominal", "scale": {"domain": ["none","stipple","fine","coarse"], "range": ["#ffffff","#ebebeb","#9c9c9c","#7a7a7a"]}, "legend": null}}},
      {"data": {"name": "boxes"}, "transform": [{"filter": "datum.panel==='F'"}], "mark": {"type": "tick", "color": "#000", "opacity": 1, "thickness": 2.8, "size": 46},
       "encoding": {"x": {"field": "group", "type": "nominal", "scale": {"domain": ["Control","BPH","Prostate Cancer","CRPC"], "paddingInner": 0, "paddingOuter": 0}}, "y": {"field": "median", "type": "quantitative", "scale": {"domain": [-10, 5], "nice": false, "zero": false}}}},
      {"data": {"name": "annots"}, "transform": [{"filter": "datum.panel==='F'"}], "mark": {"type": "rule", "color": "#555", "strokeWidth": 1},
       "encoding": {"x": {"field": "from", "type": "nominal", "scale": {"domain": ["Control","BPH","Prostate Cancer","CRPC"], "paddingInner": 0, "paddingOuter": 0}}, "x2": {"field": "to"}, "y": {"field": "y", "type": "quantitative", "scale": {"domain": [-10, 5], "nice": false, "zero": false}}}},
      {"data": {"name": "annots"}, "transform": [{"filter": "datum.panel==='F'"}], "mark": {"type": "rule", "color": "#555", "strokeWidth": 1},
       "encoding": {"x": {"field": "from", "type": "nominal", "scale": {"domain": ["Control","BPH","Prostate Cancer","CRPC"], "paddingInner": 0, "paddingOuter": 0}}, "y": {"field": "ylo", "type": "quantitative", "scale": {"domain": [-10, 5], "nice": false, "zero": false}}, "y2": {"field": "yhi"}}},
      {"data": {"name": "annots"}, "transform": [{"filter": "datum.panel==='F'"}], "mark": {"type": "rule", "color": "#555", "strokeWidth": 1},
       "encoding": {"x": {"field": "to", "type": "nominal", "scale": {"domain": ["Control","BPH","Prostate Cancer","CRPC"], "paddingInner": 0, "paddingOuter": 0}}, "y": {"field": "ylo", "type": "quantitative", "scale": {"domain": [-10, 5], "nice": false, "zero": false}}, "y2": {"field": "yhi"}}},
      {"data": {"name": "annots"}, "transform": [{"filter": "datum.panel==='F'"}], "mark": {"type": "text", "color": "#555", "fontSize": 13},
       "encoding": {"x": {"field": "mid", "type": "nominal", "scale": {"domain": ["Control","BPH","Prostate Cancer","CRPC"], "paddingInner": 0, "paddingOuter": 0}}, "y": {"field": "ty", "type": "quantitative", "scale": {"domain": [-10, 5], "nice": false, "zero": false}}, "text": {"field": "label"}}}
     ]}
   ]}
  ]}
 ]}
]
}
